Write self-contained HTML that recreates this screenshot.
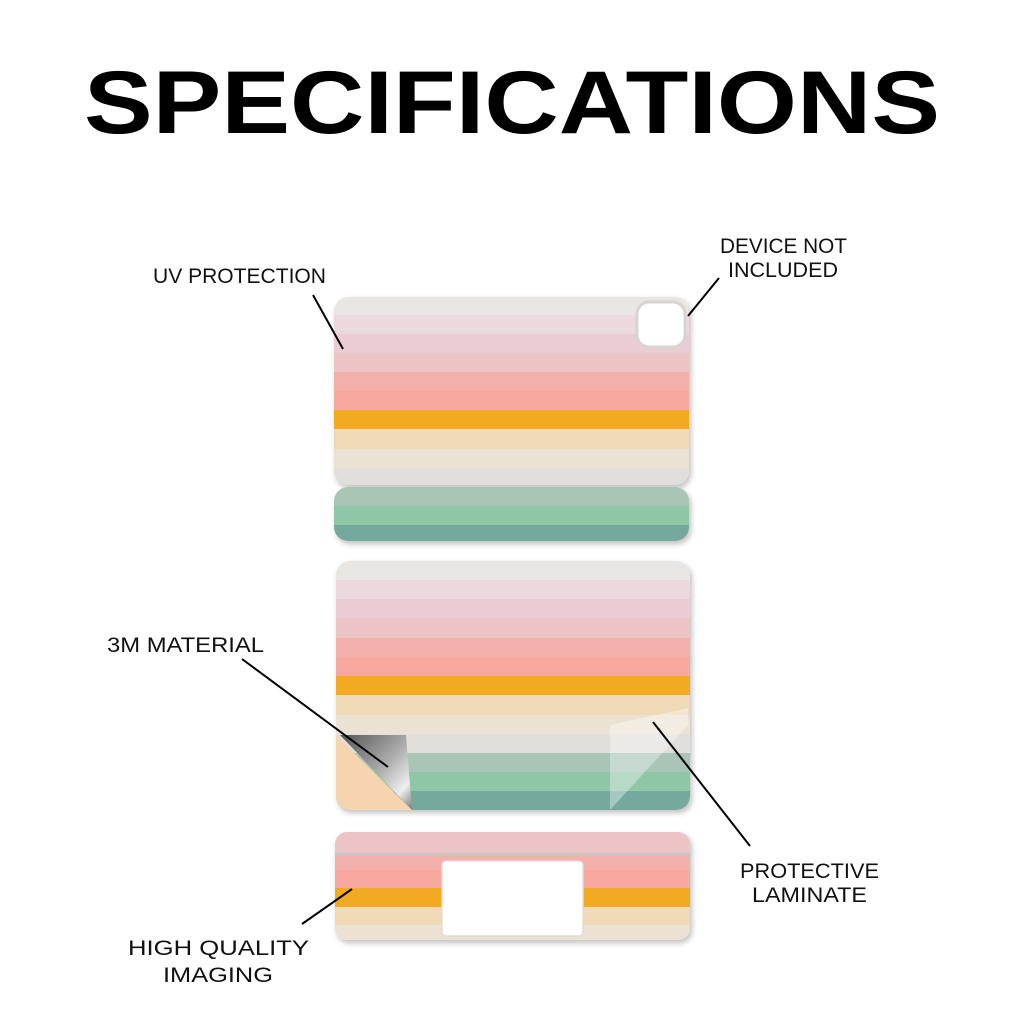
<!DOCTYPE html>
<html><head><meta charset="utf-8"><style>
html,body{margin:0;padding:0;background:#fff;width:1024px;height:1024px;overflow:hidden}
svg text{font-family:"Liberation Sans",sans-serif}
</style></head><body>
<svg width="1024" height="1024" viewBox="0 0 1024 1024" xmlns="http://www.w3.org/2000/svg">
<defs>
<clipPath id="c1"><rect x="334" y="297" width="355" height="188" rx="14"/></clipPath>
<clipPath id="c2"><rect x="334" y="487" width="355" height="54" rx="14"/></clipPath>
<clipPath id="c3"><rect x="336" y="561" width="354" height="249" rx="14"/></clipPath>
<clipPath id="c4"><rect x="335" y="832" width="355" height="108" rx="12"/></clipPath>
<linearGradient id="sil" x1="0" y1="0" x2="1" y2="1">
<stop offset="0" stop-color="#555"/><stop offset="0.5" stop-color="#aaa"/><stop offset="0.8" stop-color="#eee"/><stop offset="1" stop-color="#777"/></linearGradient>
<filter id="sh" x="-5%" y="-5%" width="110%" height="120%"><feDropShadow dx="2" dy="3" stdDeviation="3" flood-color="#000" flood-opacity="0.25"/></filter>
</defs>
<text x="84" y="133" font-size="89" font-weight="bold" textLength="856" lengthAdjust="spacingAndGlyphs">SPECIFICATIONS</text>

<g filter="url(#sh)">
<g clip-path="url(#c1)">
<rect x="334" y="297" width="355" height="19" fill="#e9e5e2"/>
<rect x="334" y="315" width="355" height="19" fill="#ecd9dd"/>
<rect x="334" y="334" width="355" height="19" fill="#ecccd3"/>
<rect x="334" y="353" width="355" height="19" fill="#ecc4c6"/>
<rect x="334" y="372" width="355" height="19" fill="#f3b0ab"/>
<rect x="334" y="391" width="355" height="19" fill="#f6a89e"/>
<rect x="334" y="410" width="355" height="19" fill="#f2aa22"/>
<rect x="334" y="429" width="355" height="20" fill="#efd9b6"/>
<rect x="334" y="449" width="355" height="19" fill="#ebe2d3"/>
<rect x="334" y="468" width="355" height="17" fill="#e2dedb"/>
</g>
</g>
<rect x="637" y="302" width="48" height="45" rx="12" fill="#fff" stroke="#d8d4d2" stroke-width="3"/>
<g filter="url(#sh)"><g clip-path="url(#c2)">
<rect x="334" y="487" width="355" height="19" fill="#a8c5b6"/>
<rect x="334" y="506" width="355" height="19" fill="#8fc6a6"/>
<rect x="334" y="525" width="355" height="16" fill="#74a99d"/>
</g></g>

<g filter="url(#sh)"><g clip-path="url(#c3)">
<rect x="336" y="561" width="354" height="19" fill="#e9e5e2"/>
<rect x="336" y="580" width="354" height="19" fill="#ecd9dd"/>
<rect x="336" y="599" width="354" height="19" fill="#ecccd3"/>
<rect x="336" y="618" width="354" height="20" fill="#ecc4c6"/>
<rect x="336" y="638" width="354" height="19" fill="#f3b0ab"/>
<rect x="336" y="657" width="354" height="19" fill="#f6a89e"/>
<rect x="336" y="676" width="354" height="19" fill="#f2aa22"/>
<rect x="336" y="695" width="354" height="20" fill="#efd9b6"/>
<rect x="336" y="715" width="354" height="19" fill="#ebe2d3"/>
<rect x="336" y="734" width="354" height="19" fill="#e2dedb"/>
<rect x="336" y="753" width="354" height="19" fill="#a8c5b6"/>
<rect x="336" y="772" width="354" height="19" fill="#8fc6a6"/>
<rect x="336" y="791" width="354" height="19" fill="#74a99d"/>
<polygon points="336,735 336,810 412,810" fill="#f6d4b0"/>
<polygon points="340,735 406,735 412,810" fill="url(#sil)"/>
<polygon points="610,725 688,708 688,725 610,810" fill="#fff" opacity="0.35"/>
</g></g>

<g filter="url(#sh)"><g clip-path="url(#c4)">
<rect x="335" y="832" width="355" height="21" fill="#ecc4c6"/>
<rect x="335" y="853" width="355" height="3" fill="#c9c4c2"/>
<rect x="335" y="856" width="355" height="14" fill="#f3b0ab"/>
<rect x="335" y="870" width="355" height="18" fill="#f6a89e"/>
<rect x="335" y="888" width="355" height="19" fill="#f2aa22"/>
<rect x="335" y="907" width="355" height="18" fill="#efd9b6"/>
<rect x="335" y="925" width="355" height="15" fill="#ebe2d3"/>
</g></g>
<rect x="442" y="861" width="141" height="75" rx="4" fill="#fff" stroke="#ddd" stroke-width="1.5"/>

<g stroke="#000" stroke-width="2">
<line x1="313" y1="295" x2="343" y2="349"/>
<line x1="719" y1="278" x2="688" y2="316"/>
<line x1="242" y1="659" x2="388" y2="767"/>
<line x1="750" y1="846" x2="653" y2="722"/>
<line x1="302" y1="924" x2="352" y2="889"/>
</g>
<g font-size="21" fill="#111">
<text x="153" y="283" textLength="173" lengthAdjust="spacingAndGlyphs">UV PROTECTION</text>
<text x="720" y="253" textLength="127" lengthAdjust="spacingAndGlyphs">DEVICE NOT</text>
<text x="728" y="277" textLength="110" lengthAdjust="spacingAndGlyphs">INCLUDED</text>
<text x="107" y="652" textLength="157" lengthAdjust="spacingAndGlyphs">3M MATERIAL</text>
<text x="740" y="878" textLength="139" lengthAdjust="spacingAndGlyphs">PROTECTIVE</text>
<text x="752" y="902" textLength="115" lengthAdjust="spacingAndGlyphs">LAMINATE</text>
<text x="128" y="955" textLength="181" lengthAdjust="spacingAndGlyphs">HIGH QUALITY</text>
<text x="163" y="982" textLength="110" lengthAdjust="spacingAndGlyphs">IMAGING</text>
</g>
</svg>
</body></html>
